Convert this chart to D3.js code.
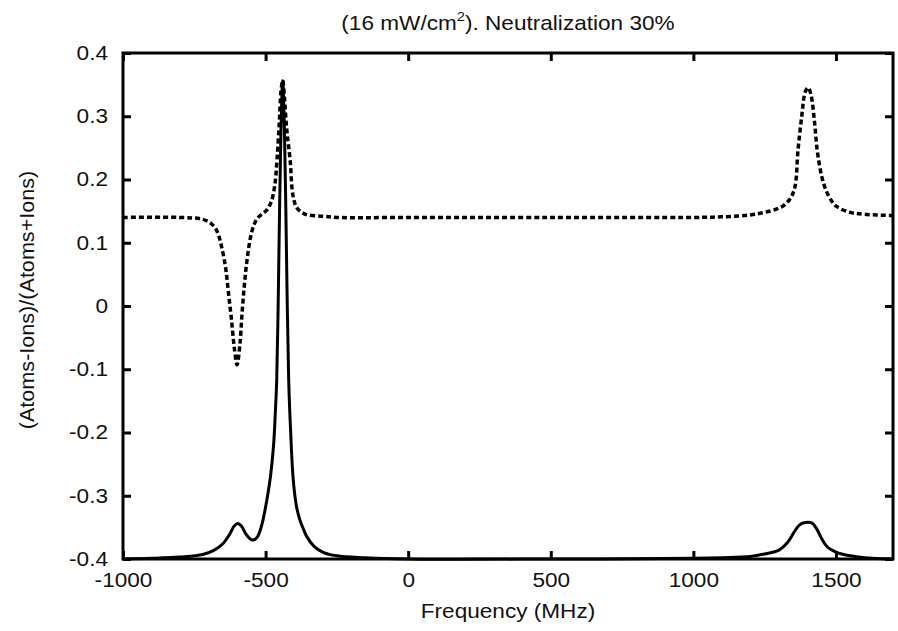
<!DOCTYPE html>
<html>
<head>
<meta charset="utf-8">
<script src="https://cdn.jsdelivr.net/npm/d3@7"></script>
<style>
  body { margin: 0; background: #fff; }
  text { font-family: "Liberation Sans", Arial, sans-serif; fill: #111; }
</style>
</head>
<body>
<svg id="chart"></svg>
<script>
// values: frequency (MHz) and (Atoms-Ions)/(Atoms+Ions)
const solidFreq = [-1000, -900, -800, -720, -680, -650, -625, -610, -598, -585, -570, -555, -544, -530, -520, -509, -495,
  -483, -472, -465, -461, -456, -451, -446, -440, -434, -429, -424, -419, -412, -403, -392, -380, -368, -355, -330, -300,
  -250, -150, 0, 500, 1000, 1100, 1200, 1250, 1300, 1330, 1350, 1370, 1385, 1415, 1432, 1450, 1470, 1500, 1550, 1600, 1700];
const solidVal = [-0.400, -0.399, -0.397, -0.393, -0.386, -0.376, -0.360, -0.348, -0.344, -0.348, -0.360, -0.368, -0.370, -0.366, -0.356, -0.338, -0.305,
  -0.270, -0.220, -0.160, -0.117, 0.000, 0.152, 0.280, 0.356, 0.280, 0.152, 0.000, -0.117, -0.200, -0.275, -0.316, -0.338, -0.352, -0.365, -0.380, -0.389,
  -0.395, -0.398, -0.400, -0.400, -0.399, -0.398, -0.396, -0.392, -0.386, -0.374, -0.360, -0.347, -0.343, -0.343, -0.352, -0.368, -0.381, -0.389, -0.395, -0.398, -0.400];

const dashFreq = [-1000, -800, -720, -690, -670, -655, -640, -630, -620, -610, -600, -590, -583, -575, -565, -548, -530, -510,
  -495, -480, -468, -460, -452, -446, -440, -434, -426, -414, -404, -390, -360, -300, -250, 0, 500, 1000, 1100, 1200, 1250,
  1290, 1314, 1340, 1356, 1367, 1380, 1392, 1402, 1412, 1425, 1434, 1450, 1465, 1485, 1503, 1550, 1600, 1700];
const dashVal = [0.140, 0.140, 0.137, 0.130, 0.118, 0.095, 0.060, 0.020, -0.020, -0.065, -0.093, -0.060, -0.015, 0.030, 0.073, 0.118, 0.138, 0.146,
  0.152, 0.165, 0.190, 0.231, 0.290, 0.340, 0.357, 0.330, 0.280, 0.231, 0.175, 0.155, 0.145, 0.142, 0.140, 0.140, 0.140, 0.140, 0.141, 0.144, 0.148,
  0.153, 0.158, 0.170, 0.188, 0.247, 0.300, 0.338, 0.345, 0.335, 0.290, 0.247, 0.205, 0.183, 0.166, 0.157, 0.148, 0.145, 0.143];

const xTicks = [-1000, -500, 0, 500, 1000, 1500];
const yTicks = [0.4, 0.3, 0.2, 0.1, 0, -0.1, -0.2, -0.3, -0.4];

const width = 898, height = 631;
const margin = { top: 53, right: 5, bottom: 72, left: 123 };
const fontSize = 20;
const stretch = 1.13; // the picture's lettering is a little wider than the font

const svg = d3.select("#chart")
    .attr("width", width)
    .attr("height", height);

const x = d3.scaleLinear()
    .domain([-1000, 1700])
    .range([margin.left, width - margin.right]);
const y = d3.scaleLinear()
    .domain([-0.4, 0.4])
    .range([height - margin.bottom, margin.top]);

const tickLen = 8;
const hyphen = s => s.replace("\u2212", "-");
const fmtX = d => hyphen(d3.format("d")(d));
const fmtY = d => d === 0 ? "0" : hyphen(d3.format(".1f")(d));

function widen(sel) {
    sel.each(function () {
        const w = this.getComputedTextLength();
        d3.select(this).attr("textLength", w * stretch).attr("lengthAdjust", "spacingAndGlyphs");
    });
}

// ticks on all four sides, pointing inward (gnuplot style)
svg.append("g")
    .attr("transform", `translate(0,${y(-0.4)})`)
    .call(d3.axisBottom(x).tickValues(xTicks).tickSize(-tickLen).tickPadding(14).tickFormat(fmtX))
    .call(g => g.select(".domain").remove())
    .call(g => g.selectAll("line").attr("stroke", "#000").attr("stroke-width", 3))
    .call(g => g.selectAll("text").attr("font-size", fontSize).attr("fill", "#111").call(widen));

svg.append("g")
    .attr("transform", `translate(0,${y(0.4)})`)
    .call(d3.axisTop(x).tickValues(xTicks).tickSize(-tickLen).tickFormat(""))
    .call(g => g.select(".domain").remove())
    .call(g => g.selectAll("line").attr("stroke", "#000").attr("stroke-width", 3));

svg.append("g")
    .attr("transform", `translate(${x(-1000)},0)`)
    .call(d3.axisLeft(y).tickValues(yTicks).tickSize(-tickLen).tickPadding(15).tickFormat(fmtY))
    .call(g => g.select(".domain").remove())
    .call(g => g.selectAll("line").attr("stroke", "#000").attr("stroke-width", 3))
    .call(g => g.selectAll("text").attr("font-size", fontSize).attr("fill", "#111").call(widen));

svg.append("g")
    .attr("transform", `translate(${x(1700)},0)`)
    .call(d3.axisRight(y).tickValues(yTicks).tickSize(-tickLen).tickFormat(""))
    .call(g => g.select(".domain").remove())
    .call(g => g.selectAll("line").attr("stroke", "#000").attr("stroke-width", 3));

const line = d3.line()
    .x(d => x(d[0]))
    .y(d => y(d[1]))
    .curve(d3.curveCatmullRom.alpha(0.5));

const plot = svg.append("g");

plot.append("path")
    .datum(d3.zip(dashFreq, dashVal))
    .attr("fill", "none")
    .attr("stroke", "#000")
    .attr("stroke-width", 3.5)
    .attr("stroke-dasharray", "5,3")
    .attr("d", line);

plot.append("path")
    .datum(d3.zip(solidFreq, solidVal))
    .attr("fill", "none")
    .attr("stroke", "#000")
    .attr("stroke-width", 3)
    .attr("stroke-linejoin", "round")
    .attr("d", line);

// frame
svg.append("rect")
    .attr("x", x(-1000))
    .attr("y", y(0.4))
    .attr("width", x(1700) - x(-1000))
    .attr("height", y(-0.4) - y(0.4))
    .attr("fill", "none")
    .attr("stroke", "#000")
    .attr("stroke-width", 3);

const midX = (x(-1000) + x(1700)) / 2;

// title
const title = svg.append("text")
    .attr("transform", `translate(${midX},30) scale(${stretch},1)`)
    .attr("text-anchor", "middle")
    .attr("font-size", fontSize);
title.append("tspan").text("(16 mW/cm");
title.append("tspan").attr("font-size", 13).attr("dy", -9).text("2");
title.append("tspan").attr("dy", 9).text("). Neutralization 30%");

svg.append("text")
    .attr("transform", `translate(${midX},618) scale(${stretch},1)`)
    .attr("text-anchor", "middle")
    .attr("font-size", fontSize)
    .text("Frequency (MHz)");

svg.append("text")
    .attr("transform", `translate(34,300) rotate(-90) scale(1.08,1)`)
    .attr("text-anchor", "middle")
    .attr("font-size", fontSize)
    .text("(Atoms-Ions)/(Atoms+Ions)");
</script>
</body>
</html>
